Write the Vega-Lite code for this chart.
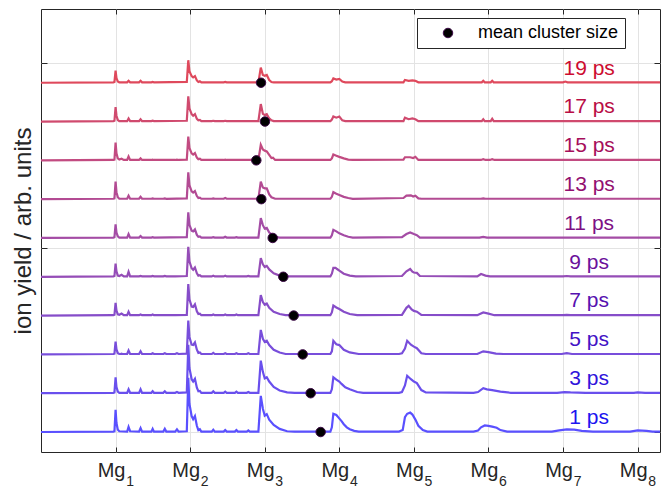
{
"$schema":"https://vega.github.io/schema/vega-lite/v6.json",
"width":619,"height":443,
"autosize":{"type":"none"},
"padding":{"left":41,"top":9,"right":9,"bottom":39},
"config":{"font":"Liberation Sans","view":{"stroke":"#262626","strokeWidth":1},
"axis":{"domain":false,"gridColor":"#e3e3e3","gridWidth":1,"tickColor":"#262626","labelColor":"#262626","titleColor":"#262626","labelFont":"Liberation Sans","titleFont":"Liberation Sans"}},
"datasets":{
"spec":[
{"t":"1 ps","x":0,"y":0},{"t":"1 ps","x":0.97,"y":0.01},{"t":"1 ps","x":0.985,"y":0.02},{"t":"1 ps","x":1.0,"y":0.57},{"t":"1 ps","x":1.012,"y":0.23},{"t":"1 ps","x":1.03,"y":0.06},{"t":"1 ps","x":1.05,"y":0.02},{"t":"1 ps","x":1.155,"y":0.01},{"t":"1 ps","x":1.174,"y":0.13},{"t":"1 ps","x":1.195,"y":0.02},{"t":"1 ps","x":1.315,"y":0.01},{"t":"1 ps","x":1.335,"y":0.10},{"t":"1 ps","x":1.355,"y":0.01},{"t":"1 ps","x":1.48,"y":0.01},{"t":"1 ps","x":1.497,"y":0.08},{"t":"1 ps","x":1.515,"y":0.01},{"t":"1 ps","x":1.64,"y":0.01},{"t":"1 ps","x":1.66,"y":0.08},{"t":"1 ps","x":1.68,"y":0.01},{"t":"1 ps","x":1.80,"y":0.01},{"t":"1 ps","x":1.823,"y":0.07},{"t":"1 ps","x":1.845,"y":0.01},
{"t":"1 ps","x":1.955,"y":0.02},{"t":"1 ps","x":1.975,"y":1.40},{"t":"1 ps","x":1.99,"y":0.73},{"t":"1 ps","x":2.02,"y":0.41},{"t":"1 ps","x":2.04,"y":0.33},{"t":"1 ps","x":2.064,"y":0.41},{"t":"1 ps","x":2.09,"y":0.16},{"t":"1 ps","x":2.11,"y":0.05},{"t":"1 ps","x":2.13,"y":0.07},{"t":"1 ps","x":2.15,"y":0.01},
{"t":"1 ps","x":2.29,"y":0.01},{"t":"1 ps","x":2.31,"y":0.06},{"t":"1 ps","x":2.33,"y":0.01},{"t":"1 ps","x":2.45,"y":0.01},{"t":"1 ps","x":2.47,"y":0.05},{"t":"1 ps","x":2.49,"y":0.01},{"t":"1 ps","x":2.6,"y":0.01},{"t":"1 ps","x":2.62,"y":0.05},{"t":"1 ps","x":2.64,"y":0.01},{"t":"1 ps","x":2.76,"y":0.01},{"t":"1 ps","x":2.78,"y":0.04},{"t":"1 ps","x":2.8,"y":0.01},
{"t":"1 ps","x":2.915,"y":0.01},{"t":"1 ps","x":2.947,"y":0.93},{"t":"1 ps","x":2.975,"y":0.6},{"t":"1 ps","x":3.0,"y":0.42},{"t":"1 ps","x":3.027,"y":0.46},{"t":"1 ps","x":3.06,"y":0.32},{"t":"1 ps","x":3.12,"y":0.18},{"t":"1 ps","x":3.2,"y":0.08},{"t":"1 ps","x":3.3,"y":0.02},{"t":"1 ps","x":3.4,"y":0.01},
{"t":"1 ps","x":3.88,"y":0.01},{"t":"1 ps","x":3.9,"y":0.12},{"t":"1 ps","x":3.92,"y":0.47},{"t":"1 ps","x":3.96,"y":0.44},{"t":"1 ps","x":3.99,"y":0.37},{"t":"1 ps","x":4.03,"y":0.28},{"t":"1 ps","x":4.06,"y":0.2},{"t":"1 ps","x":4.1,"y":0.12},{"t":"1 ps","x":4.14,"y":0.07},{"t":"1 ps","x":4.2,"y":0.03},{"t":"1 ps","x":4.26,"y":0.01},
{"t":"1 ps","x":4.8,"y":0.01},{"t":"1 ps","x":4.85,"y":0.05},{"t":"1 ps","x":4.88,"y":0.38},{"t":"1 ps","x":4.91,"y":0.47},{"t":"1 ps","x":4.95,"y":0.5},{"t":"1 ps","x":4.98,"y":0.45},{"t":"1 ps","x":5.02,"y":0.32},{"t":"1 ps","x":5.06,"y":0.16},{"t":"1 ps","x":5.12,"y":0.05},{"t":"1 ps","x":5.18,"y":0.01},
{"t":"1 ps","x":5.8,"y":0.01},{"t":"1 ps","x":5.86,"y":0.04},{"t":"1 ps","x":5.9,"y":0.12},{"t":"1 ps","x":5.95,"y":0.17},{"t":"1 ps","x":6.0,"y":0.16},{"t":"1 ps","x":6.05,"y":0.14},{"t":"1 ps","x":6.11,"y":0.11},{"t":"1 ps","x":6.16,"y":0.05},{"t":"1 ps","x":6.25,"y":0.01},
{"t":"1 ps","x":6.85,"y":0.01},{"t":"1 ps","x":6.95,"y":0.04},{"t":"1 ps","x":7.05,"y":0.07},{"t":"1 ps","x":7.15,"y":0.06},{"t":"1 ps","x":7.25,"y":0.03},{"t":"1 ps","x":7.4,"y":0.01},
{"t":"1 ps","x":7.9,"y":0.01},{"t":"1 ps","x":8.0,"y":0.04},{"t":"1 ps","x":8.12,"y":0.03},{"t":"1 ps","x":8.2,"y":0.01},{"t":"1 ps","x":8.3,"y":0.01},

{"t":"3 ps","x":0,"y":1},{"t":"3 ps","x":0.97,"y":1.01},{"t":"3 ps","x":0.985,"y":1.02},{"t":"3 ps","x":1.0,"y":1.41},{"t":"3 ps","x":1.012,"y":1.16},{"t":"3 ps","x":1.03,"y":1.04},{"t":"3 ps","x":1.05,"y":1.01},{"t":"3 ps","x":1.155,"y":1.01},{"t":"3 ps","x":1.174,"y":1.10},{"t":"3 ps","x":1.195,"y":1.01},{"t":"3 ps","x":1.315,"y":1.01},{"t":"3 ps","x":1.335,"y":1.10},{"t":"3 ps","x":1.355,"y":1.01},{"t":"3 ps","x":1.48,"y":1.01},{"t":"3 ps","x":1.497,"y":1.05},{"t":"3 ps","x":1.515,"y":1.01},{"t":"3 ps","x":1.64,"y":1.01},{"t":"3 ps","x":1.66,"y":1.05},{"t":"3 ps","x":1.68,"y":1.01},{"t":"3 ps","x":1.80,"y":1.01},{"t":"3 ps","x":1.823,"y":1.03},{"t":"3 ps","x":1.845,"y":1.01},
{"t":"3 ps","x":1.955,"y":1.02},{"t":"3 ps","x":1.975,"y":2.25},{"t":"3 ps","x":1.99,"y":1.65},{"t":"3 ps","x":2.02,"y":1.36},{"t":"3 ps","x":2.04,"y":1.3},{"t":"3 ps","x":2.064,"y":1.37},{"t":"3 ps","x":2.09,"y":1.14},{"t":"3 ps","x":2.11,"y":1.05},{"t":"3 ps","x":2.13,"y":1.06},{"t":"3 ps","x":2.15,"y":1.01},
{"t":"3 ps","x":2.29,"y":1.01},{"t":"3 ps","x":2.31,"y":1.05},{"t":"3 ps","x":2.33,"y":1.01},{"t":"3 ps","x":2.45,"y":1.01},{"t":"3 ps","x":2.47,"y":1.04},{"t":"3 ps","x":2.49,"y":1.01},{"t":"3 ps","x":2.6,"y":1.01},{"t":"3 ps","x":2.62,"y":1.04},{"t":"3 ps","x":2.64,"y":1.01},{"t":"3 ps","x":2.76,"y":1.01},{"t":"3 ps","x":2.78,"y":1.03},{"t":"3 ps","x":2.8,"y":1.01},
{"t":"3 ps","x":2.915,"y":1.01},{"t":"3 ps","x":2.947,"y":1.84},{"t":"3 ps","x":2.975,"y":1.55},{"t":"3 ps","x":3.0,"y":1.38},{"t":"3 ps","x":3.027,"y":1.41},{"t":"3 ps","x":3.06,"y":1.3},{"t":"3 ps","x":3.12,"y":1.16},{"t":"3 ps","x":3.2,"y":1.07},{"t":"3 ps","x":3.3,"y":1.02},{"t":"3 ps","x":3.4,"y":1.01},
{"t":"3 ps","x":3.88,"y":1.01},{"t":"3 ps","x":3.9,"y":1.1},{"t":"3 ps","x":3.92,"y":1.41},{"t":"3 ps","x":3.96,"y":1.35},{"t":"3 ps","x":4.0,"y":1.3},{"t":"3 ps","x":4.03,"y":1.24},{"t":"3 ps","x":4.08,"y":1.15},{"t":"3 ps","x":4.14,"y":1.1},{"t":"3 ps","x":4.24,"y":1.03},{"t":"3 ps","x":4.32,"y":1.01},
{"t":"3 ps","x":4.8,"y":1.01},{"t":"3 ps","x":4.84,"y":1.03},{"t":"3 ps","x":4.88,"y":1.2},{"t":"3 ps","x":4.91,"y":1.45},{"t":"3 ps","x":4.96,"y":1.36},{"t":"3 ps","x":5.0,"y":1.3},{"t":"3 ps","x":5.04,"y":1.26},{"t":"3 ps","x":5.1,"y":1.08},{"t":"3 ps","x":5.16,"y":1.02},
{"t":"3 ps","x":5.8,"y":1.01},{"t":"3 ps","x":5.86,"y":1.03},{"t":"3 ps","x":5.93,"y":1.13},{"t":"3 ps","x":5.98,"y":1.1},{"t":"3 ps","x":6.05,"y":1.08},{"t":"3 ps","x":6.16,"y":1.04},{"t":"3 ps","x":6.3,"y":1.01},
{"t":"3 ps","x":6.92,"y":1.01},{"t":"3 ps","x":7.02,"y":1.03},{"t":"3 ps","x":7.1,"y":1.02},{"t":"3 ps","x":7.3,"y":1.01},{"t":"3 ps","x":7.95,"y":1.01},{"t":"3 ps","x":8.0,"y":1.02},{"t":"3 ps","x":8.1,"y":1.01},{"t":"3 ps","x":8.3,"y":1.01},

{"t":"5 ps","x":0,"y":2},{"t":"5 ps","x":0.97,"y":2.01},{"t":"5 ps","x":0.985,"y":2.02},{"t":"5 ps","x":1.0,"y":2.33},{"t":"5 ps","x":1.012,"y":2.13},{"t":"5 ps","x":1.03,"y":2.03},{"t":"5 ps","x":1.05,"y":2.01},{"t":"5 ps","x":1.07,"y":2.01},{"t":"5 ps","x":1.08,"y":2.02},{"t":"5 ps","x":1.09,"y":2.01},{"t":"5 ps","x":1.155,"y":2.01},{"t":"5 ps","x":1.174,"y":2.10},{"t":"5 ps","x":1.195,"y":2.01},{"t":"5 ps","x":1.315,"y":2.01},{"t":"5 ps","x":1.335,"y":2.08},{"t":"5 ps","x":1.355,"y":2.01},{"t":"5 ps","x":1.48,"y":2.01},{"t":"5 ps","x":1.497,"y":2.03},{"t":"5 ps","x":1.515,"y":2.01},{"t":"5 ps","x":1.64,"y":2.01},{"t":"5 ps","x":1.66,"y":2.03},{"t":"5 ps","x":1.68,"y":2.01},{"t":"5 ps","x":1.80,"y":2.01},{"t":"5 ps","x":1.823,"y":2.03},{"t":"5 ps","x":1.845,"y":2.01},
{"t":"5 ps","x":1.955,"y":2.02},{"t":"5 ps","x":1.975,"y":2.87},{"t":"5 ps","x":1.99,"y":2.45},{"t":"5 ps","x":2.02,"y":2.25},{"t":"5 ps","x":2.04,"y":2.24},{"t":"5 ps","x":2.064,"y":2.31},{"t":"5 ps","x":2.09,"y":2.12},{"t":"5 ps","x":2.11,"y":2.04},{"t":"5 ps","x":2.13,"y":2.05},{"t":"5 ps","x":2.15,"y":2.01},
{"t":"5 ps","x":2.29,"y":2.01},{"t":"5 ps","x":2.31,"y":2.04},{"t":"5 ps","x":2.33,"y":2.01},{"t":"5 ps","x":2.45,"y":2.01},{"t":"5 ps","x":2.47,"y":2.03},{"t":"5 ps","x":2.49,"y":2.01},{"t":"5 ps","x":2.6,"y":2.01},{"t":"5 ps","x":2.62,"y":2.03},{"t":"5 ps","x":2.64,"y":2.01},{"t":"5 ps","x":2.76,"y":2.01},{"t":"5 ps","x":2.78,"y":2.03},{"t":"5 ps","x":2.8,"y":2.01},
{"t":"5 ps","x":2.915,"y":2.01},{"t":"5 ps","x":2.947,"y":2.63},{"t":"5 ps","x":2.975,"y":2.4},{"t":"5 ps","x":3.0,"y":2.32},{"t":"5 ps","x":3.027,"y":2.35},{"t":"5 ps","x":3.06,"y":2.24},{"t":"5 ps","x":3.12,"y":2.12},{"t":"5 ps","x":3.2,"y":2.05},{"t":"5 ps","x":3.28,"y":2.01},
{"t":"5 ps","x":3.88,"y":2.01},{"t":"5 ps","x":3.9,"y":2.08},{"t":"5 ps","x":3.92,"y":2.35},{"t":"5 ps","x":3.96,"y":2.26},{"t":"5 ps","x":4.0,"y":2.24},{"t":"5 ps","x":4.06,"y":2.12},{"t":"5 ps","x":4.14,"y":2.05},{"t":"5 ps","x":4.26,"y":2.01},
{"t":"5 ps","x":4.8,"y":2.01},{"t":"5 ps","x":4.84,"y":2.03},{"t":"5 ps","x":4.88,"y":2.15},{"t":"5 ps","x":4.91,"y":2.35},{"t":"5 ps","x":4.96,"y":2.25},{"t":"5 ps","x":5.0,"y":2.2},{"t":"5 ps","x":5.04,"y":2.16},{"t":"5 ps","x":5.1,"y":2.03},{"t":"5 ps","x":5.16,"y":2.01},
{"t":"5 ps","x":5.85,"y":2.01},{"t":"5 ps","x":5.93,"y":2.08},{"t":"5 ps","x":6.0,"y":2.06},{"t":"5 ps","x":6.1,"y":2.02},{"t":"5 ps","x":6.2,"y":2.01},{"t":"5 ps","x":6.98,"y":2.01},{"t":"5 ps","x":7.05,"y":2.03},{"t":"5 ps","x":7.12,"y":2.01},{"t":"5 ps","x":8.3,"y":2.01},

{"t":"7 ps","x":0,"y":3},{"t":"7 ps","x":0.97,"y":3.01},{"t":"7 ps","x":0.985,"y":3.02},{"t":"7 ps","x":1.0,"y":3.33},{"t":"7 ps","x":1.012,"y":3.13},{"t":"7 ps","x":1.03,"y":3.03},{"t":"7 ps","x":1.05,"y":3.02},{"t":"7 ps","x":1.08,"y":3.05},{"t":"7 ps","x":1.11,"y":3.01},{"t":"7 ps","x":1.155,"y":3.01},{"t":"7 ps","x":1.174,"y":3.10},{"t":"7 ps","x":1.195,"y":3.01},{"t":"7 ps","x":1.315,"y":3.01},{"t":"7 ps","x":1.335,"y":3.03},{"t":"7 ps","x":1.355,"y":3.01},{"t":"7 ps","x":1.48,"y":3.01},{"t":"7 ps","x":1.497,"y":3.03},{"t":"7 ps","x":1.515,"y":3.01},{"t":"7 ps","x":1.80,"y":3.01},
{"t":"7 ps","x":1.955,"y":3.02},{"t":"7 ps","x":1.975,"y":3.81},{"t":"7 ps","x":1.99,"y":3.42},{"t":"7 ps","x":2.02,"y":3.23},{"t":"7 ps","x":2.04,"y":3.22},{"t":"7 ps","x":2.064,"y":3.29},{"t":"7 ps","x":2.09,"y":3.11},{"t":"7 ps","x":2.11,"y":3.04},{"t":"7 ps","x":2.13,"y":3.05},{"t":"7 ps","x":2.15,"y":3.01},
{"t":"7 ps","x":2.29,"y":3.01},{"t":"7 ps","x":2.31,"y":3.03},{"t":"7 ps","x":2.33,"y":3.01},{"t":"7 ps","x":2.45,"y":3.01},{"t":"7 ps","x":2.47,"y":3.03},{"t":"7 ps","x":2.49,"y":3.01},{"t":"7 ps","x":2.6,"y":3.01},{"t":"7 ps","x":2.62,"y":3.03},{"t":"7 ps","x":2.64,"y":3.01},{"t":"7 ps","x":2.8,"y":3.01},
{"t":"7 ps","x":2.915,"y":3.01},{"t":"7 ps","x":2.947,"y":3.53},{"t":"7 ps","x":2.975,"y":3.35},{"t":"7 ps","x":3.0,"y":3.28},{"t":"7 ps","x":3.027,"y":3.31},{"t":"7 ps","x":3.06,"y":3.2},{"t":"7 ps","x":3.12,"y":3.1},{"t":"7 ps","x":3.2,"y":3.04},{"t":"7 ps","x":3.28,"y":3.01},
{"t":"7 ps","x":3.88,"y":3.01},{"t":"7 ps","x":3.9,"y":3.08},{"t":"7 ps","x":3.92,"y":3.26},{"t":"7 ps","x":3.96,"y":3.21},{"t":"7 ps","x":4.0,"y":3.17},{"t":"7 ps","x":4.06,"y":3.1},{"t":"7 ps","x":4.14,"y":3.04},{"t":"7 ps","x":4.24,"y":3.01},
{"t":"7 ps","x":4.84,"y":3.02},{"t":"7 ps","x":4.9,"y":3.2},{"t":"7 ps","x":4.93,"y":3.25},{"t":"7 ps","x":4.97,"y":3.16},{"t":"7 ps","x":5.0,"y":3.12},{"t":"7 ps","x":5.04,"y":3.1},{"t":"7 ps","x":5.1,"y":3.02},
{"t":"7 ps","x":5.85,"y":3.01},{"t":"7 ps","x":5.93,"y":3.08},{"t":"7 ps","x":6.0,"y":3.05},{"t":"7 ps","x":6.08,"y":3.01},{"t":"7 ps","x":7.0,"y":3.01},{"t":"7 ps","x":7.05,"y":3.02},{"t":"7 ps","x":7.1,"y":3.01},{"t":"7 ps","x":8.3,"y":3.01},

{"t":"9 ps","x":0,"y":4},{"t":"9 ps","x":0.97,"y":4.01},{"t":"9 ps","x":0.985,"y":4.02},{"t":"9 ps","x":1.0,"y":4.34},{"t":"9 ps","x":1.012,"y":4.14},{"t":"9 ps","x":1.03,"y":4.03},{"t":"9 ps","x":1.05,"y":4.02},{"t":"9 ps","x":1.08,"y":4.05},{"t":"9 ps","x":1.11,"y":4.01},{"t":"9 ps","x":1.155,"y":4.01},{"t":"9 ps","x":1.174,"y":4.13},{"t":"9 ps","x":1.195,"y":4.01},{"t":"9 ps","x":1.315,"y":4.01},{"t":"9 ps","x":1.335,"y":4.02},{"t":"9 ps","x":1.355,"y":4.01},{"t":"9 ps","x":1.48,"y":4.01},{"t":"9 ps","x":1.497,"y":4.02},{"t":"9 ps","x":1.515,"y":4.01},{"t":"9 ps","x":1.64,"y":4.01},{"t":"9 ps","x":1.66,"y":4.02},{"t":"9 ps","x":1.68,"y":4.01},{"t":"9 ps","x":1.80,"y":4.01},
{"t":"9 ps","x":1.955,"y":4.02},{"t":"9 ps","x":1.975,"y":4.77},{"t":"9 ps","x":1.99,"y":4.4},{"t":"9 ps","x":2.02,"y":4.22},{"t":"9 ps","x":2.04,"y":4.18},{"t":"9 ps","x":2.064,"y":4.24},{"t":"9 ps","x":2.09,"y":4.09},{"t":"9 ps","x":2.11,"y":4.03},{"t":"9 ps","x":2.13,"y":4.04},{"t":"9 ps","x":2.15,"y":4.01},
{"t":"9 ps","x":2.29,"y":4.01},{"t":"9 ps","x":2.31,"y":4.03},{"t":"9 ps","x":2.33,"y":4.01},{"t":"9 ps","x":2.45,"y":4.01},{"t":"9 ps","x":2.47,"y":4.03},{"t":"9 ps","x":2.49,"y":4.01},{"t":"9 ps","x":2.76,"y":4.01},{"t":"9 ps","x":2.78,"y":4.02},{"t":"9 ps","x":2.8,"y":4.01},
{"t":"9 ps","x":2.915,"y":4.01},{"t":"9 ps","x":2.947,"y":4.48},{"t":"9 ps","x":2.975,"y":4.32},{"t":"9 ps","x":3.0,"y":4.25},{"t":"9 ps","x":3.027,"y":4.28},{"t":"9 ps","x":3.06,"y":4.19},{"t":"9 ps","x":3.12,"y":4.09},{"t":"9 ps","x":3.2,"y":4.03},{"t":"9 ps","x":3.25,"y":4.01},
{"t":"9 ps","x":3.88,"y":4.01},{"t":"9 ps","x":3.9,"y":4.08},{"t":"9 ps","x":3.92,"y":4.23},{"t":"9 ps","x":3.95,"y":4.23},{"t":"9 ps","x":3.97,"y":4.2},{"t":"9 ps","x":4.0,"y":4.16},{"t":"9 ps","x":4.06,"y":4.08},{"t":"9 ps","x":4.14,"y":4.03},{"t":"9 ps","x":4.22,"y":4.01},
{"t":"9 ps","x":4.84,"y":4.02},{"t":"9 ps","x":4.9,"y":4.14},{"t":"9 ps","x":4.95,"y":4.2},{"t":"9 ps","x":4.98,"y":4.13},{"t":"9 ps","x":5.0,"y":4.11},{"t":"9 ps","x":5.04,"y":4.1},{"t":"9 ps","x":5.08,"y":4.02},
{"t":"9 ps","x":5.85,"y":4.01},{"t":"9 ps","x":5.9,"y":4.07},{"t":"9 ps","x":5.96,"y":4.03},{"t":"9 ps","x":6.02,"y":4.01},{"t":"9 ps","x":7.0,"y":4.01},{"t":"9 ps","x":7.05,"y":4.02},{"t":"9 ps","x":7.1,"y":4.01},{"t":"9 ps","x":8.3,"y":4.01},

{"t":"11 ps","x":0,"y":5},{"t":"11 ps","x":0.97,"y":5.01},{"t":"11 ps","x":0.985,"y":5.02},{"t":"11 ps","x":1.0,"y":5.35},{"t":"11 ps","x":1.012,"y":5.14},{"t":"11 ps","x":1.03,"y":5.04},{"t":"11 ps","x":1.05,"y":5.01},{"t":"11 ps","x":1.155,"y":5.01},{"t":"11 ps","x":1.174,"y":5.10},{"t":"11 ps","x":1.195,"y":5.01},{"t":"11 ps","x":1.315,"y":5.01},{"t":"11 ps","x":1.335,"y":5.05},{"t":"11 ps","x":1.355,"y":5.01},{"t":"11 ps","x":1.48,"y":5.01},{"t":"11 ps","x":1.497,"y":5.02},{"t":"11 ps","x":1.515,"y":5.01},
{"t":"11 ps","x":1.955,"y":5.02},{"t":"11 ps","x":1.975,"y":5.66},{"t":"11 ps","x":1.99,"y":5.34},{"t":"11 ps","x":2.02,"y":5.19},{"t":"11 ps","x":2.04,"y":5.17},{"t":"11 ps","x":2.064,"y":5.22},{"t":"11 ps","x":2.09,"y":5.08},{"t":"11 ps","x":2.11,"y":5.03},{"t":"11 ps","x":2.13,"y":5.04},{"t":"11 ps","x":2.15,"y":5.01},
{"t":"11 ps","x":2.29,"y":5.01},{"t":"11 ps","x":2.31,"y":5.02},{"t":"11 ps","x":2.33,"y":5.01},{"t":"11 ps","x":2.45,"y":5.01},{"t":"11 ps","x":2.47,"y":5.03},{"t":"11 ps","x":2.49,"y":5.01},{"t":"11 ps","x":2.6,"y":5.01},{"t":"11 ps","x":2.62,"y":5.02},{"t":"11 ps","x":2.64,"y":5.01},
{"t":"11 ps","x":2.915,"y":5.01},{"t":"11 ps","x":2.947,"y":5.51},{"t":"11 ps","x":2.975,"y":5.33},{"t":"11 ps","x":3.0,"y":5.24},{"t":"11 ps","x":3.027,"y":5.26},{"t":"11 ps","x":3.06,"y":5.14},{"t":"11 ps","x":3.12,"y":5.06},{"t":"11 ps","x":3.16,"y":5.02},{"t":"11 ps","x":3.2,"y":5.01},
{"t":"11 ps","x":3.88,"y":5.01},{"t":"11 ps","x":3.9,"y":5.07},{"t":"11 ps","x":3.92,"y":5.21},{"t":"11 ps","x":3.96,"y":5.17},{"t":"11 ps","x":4.0,"y":5.12},{"t":"11 ps","x":4.06,"y":5.07},{"t":"11 ps","x":4.12,"y":5.03},{"t":"11 ps","x":4.18,"y":5.01},
{"t":"11 ps","x":4.84,"y":5.02},{"t":"11 ps","x":4.9,"y":5.1},{"t":"11 ps","x":4.95,"y":5.14},{"t":"11 ps","x":5.0,"y":5.1},{"t":"11 ps","x":5.04,"y":5.07},{"t":"11 ps","x":5.08,"y":5.01},
{"t":"11 ps","x":5.88,"y":5.01},{"t":"11 ps","x":5.93,"y":5.03},{"t":"11 ps","x":5.98,"y":5.01},{"t":"11 ps","x":8.3,"y":5.01},

{"t":"13 ps","x":0,"y":6},{"t":"13 ps","x":0.97,"y":6.01},{"t":"13 ps","x":0.985,"y":6.02},{"t":"13 ps","x":1.0,"y":6.45},{"t":"13 ps","x":1.012,"y":6.18},{"t":"13 ps","x":1.03,"y":6.05},{"t":"13 ps","x":1.05,"y":6.01},{"t":"13 ps","x":1.155,"y":6.01},{"t":"13 ps","x":1.174,"y":6.09},{"t":"13 ps","x":1.195,"y":6.01},{"t":"13 ps","x":1.315,"y":6.01},{"t":"13 ps","x":1.335,"y":6.06},{"t":"13 ps","x":1.355,"y":6.01},{"t":"13 ps","x":1.48,"y":6.01},{"t":"13 ps","x":1.497,"y":6.02},{"t":"13 ps","x":1.515,"y":6.01},{"t":"13 ps","x":1.64,"y":6.01},{"t":"13 ps","x":1.66,"y":6.02},{"t":"13 ps","x":1.68,"y":6.01},
{"t":"13 ps","x":1.955,"y":6.02},{"t":"13 ps","x":1.975,"y":6.69},{"t":"13 ps","x":1.99,"y":6.36},{"t":"13 ps","x":2.02,"y":6.2},{"t":"13 ps","x":2.04,"y":6.17},{"t":"13 ps","x":2.064,"y":6.21},{"t":"13 ps","x":2.09,"y":6.08},{"t":"13 ps","x":2.11,"y":6.03},{"t":"13 ps","x":2.13,"y":6.04},{"t":"13 ps","x":2.15,"y":6.01},
{"t":"13 ps","x":2.29,"y":6.01},{"t":"13 ps","x":2.31,"y":6.02},{"t":"13 ps","x":2.33,"y":6.01},{"t":"13 ps","x":2.45,"y":6.01},{"t":"13 ps","x":2.47,"y":6.03},{"t":"13 ps","x":2.49,"y":6.01},
{"t":"13 ps","x":2.915,"y":6.01},{"t":"13 ps","x":2.947,"y":6.45},{"t":"13 ps","x":2.975,"y":6.3},{"t":"13 ps","x":3.0,"y":6.28},{"t":"13 ps","x":3.027,"y":6.28},{"t":"13 ps","x":3.06,"y":6.12},{"t":"13 ps","x":3.09,"y":6.05},{"t":"13 ps","x":3.14,"y":6.01},
{"t":"13 ps","x":3.88,"y":6.01},{"t":"13 ps","x":3.9,"y":6.06},{"t":"13 ps","x":3.92,"y":6.18},{"t":"13 ps","x":3.96,"y":6.14},{"t":"13 ps","x":4.0,"y":6.11},{"t":"13 ps","x":4.06,"y":6.06},{"t":"13 ps","x":4.12,"y":6.03},{"t":"13 ps","x":4.18,"y":6.01},
{"t":"13 ps","x":4.86,"y":6.03},{"t":"13 ps","x":4.9,"y":6.09},{"t":"13 ps","x":4.96,"y":6.1},{"t":"13 ps","x":4.99,"y":6.07},{"t":"13 ps","x":5.02,"y":6.09},{"t":"13 ps","x":5.06,"y":6.02},{"t":"13 ps","x":5.1,"y":6.01},
{"t":"13 ps","x":5.9,"y":6.01},{"t":"13 ps","x":5.93,"y":6.02},{"t":"13 ps","x":5.96,"y":6.01},{"t":"13 ps","x":8.3,"y":6.01},

{"t":"15 ps","x":0,"y":7},{"t":"15 ps","x":0.97,"y":7.01},{"t":"15 ps","x":0.985,"y":7.02},{"t":"15 ps","x":1.0,"y":7.46},{"t":"15 ps","x":1.012,"y":7.18},{"t":"15 ps","x":1.03,"y":7.05},{"t":"15 ps","x":1.05,"y":7.02},{"t":"15 ps","x":1.08,"y":7.04},{"t":"15 ps","x":1.11,"y":7.01},{"t":"15 ps","x":1.155,"y":7.01},{"t":"15 ps","x":1.174,"y":7.1},{"t":"15 ps","x":1.195,"y":7.01},{"t":"15 ps","x":1.315,"y":7.01},{"t":"15 ps","x":1.335,"y":7.05},{"t":"15 ps","x":1.355,"y":7.01},{"t":"15 ps","x":1.48,"y":7.01},{"t":"15 ps","x":1.497,"y":7.02},{"t":"15 ps","x":1.515,"y":7.01},{"t":"15 ps","x":1.80,"y":7.01},{"t":"15 ps","x":1.823,"y":7.02},{"t":"15 ps","x":1.845,"y":7.01},
{"t":"15 ps","x":1.955,"y":7.02},{"t":"15 ps","x":1.975,"y":7.61},{"t":"15 ps","x":1.99,"y":7.32},{"t":"15 ps","x":2.02,"y":7.18},{"t":"15 ps","x":2.04,"y":7.15},{"t":"15 ps","x":2.064,"y":7.19},{"t":"15 ps","x":2.09,"y":7.07},{"t":"15 ps","x":2.11,"y":7.03},{"t":"15 ps","x":2.13,"y":7.04},{"t":"15 ps","x":2.15,"y":7.01},
{"t":"15 ps","x":2.45,"y":7.01},{"t":"15 ps","x":2.47,"y":7.02},{"t":"15 ps","x":2.49,"y":7.01},
{"t":"15 ps","x":2.915,"y":7.01},{"t":"15 ps","x":2.947,"y":7.4},{"t":"15 ps","x":2.975,"y":7.28},{"t":"15 ps","x":3.0,"y":7.25},{"t":"15 ps","x":3.027,"y":7.23},{"t":"15 ps","x":3.06,"y":7.14},{"t":"15 ps","x":3.09,"y":7.06},{"t":"15 ps","x":3.11,"y":7.07},{"t":"15 ps","x":3.14,"y":7.01},
{"t":"15 ps","x":3.88,"y":7.01},{"t":"15 ps","x":3.9,"y":7.05},{"t":"15 ps","x":3.92,"y":7.15},{"t":"15 ps","x":3.96,"y":7.12},{"t":"15 ps","x":4.0,"y":7.09},{"t":"15 ps","x":4.06,"y":7.05},{"t":"15 ps","x":4.12,"y":7.02},{"t":"15 ps","x":4.18,"y":7.01},
{"t":"15 ps","x":4.86,"y":7.02},{"t":"15 ps","x":4.88,"y":7.08},{"t":"15 ps","x":4.95,"y":7.08},{"t":"15 ps","x":4.99,"y":7.06},{"t":"15 ps","x":5.02,"y":7.09},{"t":"15 ps","x":5.06,"y":7.01},
{"t":"15 ps","x":5.9,"y":7.01},{"t":"15 ps","x":5.93,"y":7.03},{"t":"15 ps","x":5.96,"y":7.01},{"t":"15 ps","x":6.02,"y":7.01},{"t":"15 ps","x":6.05,"y":7.03},{"t":"15 ps","x":6.08,"y":7.01},{"t":"15 ps","x":8.3,"y":7.01},

{"t":"17 ps","x":0,"y":8},{"t":"17 ps","x":0.97,"y":8.01},{"t":"17 ps","x":0.985,"y":8.02},{"t":"17 ps","x":1.0,"y":8.37},{"t":"17 ps","x":1.012,"y":8.15},{"t":"17 ps","x":1.03,"y":8.04},{"t":"17 ps","x":1.05,"y":8.01},{"t":"17 ps","x":1.155,"y":8.01},{"t":"17 ps","x":1.174,"y":8.08},{"t":"17 ps","x":1.195,"y":8.01},{"t":"17 ps","x":1.315,"y":8.01},{"t":"17 ps","x":1.335,"y":8.06},{"t":"17 ps","x":1.355,"y":8.01},{"t":"17 ps","x":1.48,"y":8.01},{"t":"17 ps","x":1.497,"y":8.02},{"t":"17 ps","x":1.515,"y":8.01},
{"t":"17 ps","x":1.955,"y":8.02},{"t":"17 ps","x":1.975,"y":8.65},{"t":"17 ps","x":1.99,"y":8.34},{"t":"17 ps","x":2.02,"y":8.19},{"t":"17 ps","x":2.04,"y":8.15},{"t":"17 ps","x":2.064,"y":8.19},{"t":"17 ps","x":2.09,"y":8.07},{"t":"17 ps","x":2.11,"y":8.03},{"t":"17 ps","x":2.13,"y":8.04},{"t":"17 ps","x":2.15,"y":8.01},
{"t":"17 ps","x":2.29,"y":8.01},{"t":"17 ps","x":2.31,"y":8.02},{"t":"17 ps","x":2.33,"y":8.01},{"t":"17 ps","x":2.45,"y":8.01},{"t":"17 ps","x":2.47,"y":8.02},{"t":"17 ps","x":2.49,"y":8.01},
{"t":"17 ps","x":2.915,"y":8.01},{"t":"17 ps","x":2.947,"y":8.45},{"t":"17 ps","x":2.975,"y":8.2},{"t":"17 ps","x":3.0,"y":8.17},{"t":"17 ps","x":3.027,"y":8.19},{"t":"17 ps","x":3.06,"y":8.08},{"t":"17 ps","x":3.09,"y":8.03},{"t":"17 ps","x":3.12,"y":8.01},
{"t":"17 ps","x":3.88,"y":8.01},{"t":"17 ps","x":3.9,"y":8.05},{"t":"17 ps","x":3.92,"y":8.13},{"t":"17 ps","x":3.96,"y":8.1},{"t":"17 ps","x":4.0,"y":8.13},{"t":"17 ps","x":4.04,"y":8.03},{"t":"17 ps","x":4.08,"y":8.01},
{"t":"17 ps","x":4.86,"y":8.01},{"t":"17 ps","x":4.88,"y":8.1},{"t":"17 ps","x":4.93,"y":8.06},{"t":"17 ps","x":4.98,"y":8.08},{"t":"17 ps","x":5.02,"y":8.06},{"t":"17 ps","x":5.06,"y":8.01},
{"t":"17 ps","x":5.91,"y":8.01},{"t":"17 ps","x":5.93,"y":8.06},{"t":"17 ps","x":5.95,"y":8.01},{"t":"17 ps","x":6.03,"y":8.01},{"t":"17 ps","x":6.05,"y":8.07},{"t":"17 ps","x":6.07,"y":8.01},{"t":"17 ps","x":8.3,"y":8.01},

{"t":"19 ps","x":0,"y":9},{"t":"19 ps","x":0.97,"y":9.01},{"t":"19 ps","x":0.985,"y":9.02},{"t":"19 ps","x":1.0,"y":9.31},{"t":"19 ps","x":1.012,"y":9.12},{"t":"19 ps","x":1.03,"y":9.03},{"t":"19 ps","x":1.05,"y":9.01},{"t":"19 ps","x":1.155,"y":9.01},{"t":"19 ps","x":1.174,"y":9.05},{"t":"19 ps","x":1.195,"y":9.01},{"t":"19 ps","x":1.315,"y":9.01},{"t":"19 ps","x":1.335,"y":9.05},{"t":"19 ps","x":1.355,"y":9.01},{"t":"19 ps","x":1.48,"y":9.01},{"t":"19 ps","x":1.497,"y":9.02},{"t":"19 ps","x":1.515,"y":9.01},
{"t":"19 ps","x":1.955,"y":9.02},{"t":"19 ps","x":1.975,"y":9.58},{"t":"19 ps","x":1.99,"y":9.3},{"t":"19 ps","x":2.02,"y":9.17},{"t":"19 ps","x":2.04,"y":9.14},{"t":"19 ps","x":2.064,"y":9.17},{"t":"19 ps","x":2.09,"y":9.06},{"t":"19 ps","x":2.11,"y":9.02},{"t":"19 ps","x":2.13,"y":9.04},{"t":"19 ps","x":2.15,"y":9.01},
{"t":"19 ps","x":2.45,"y":9.01},{"t":"19 ps","x":2.47,"y":9.02},{"t":"19 ps","x":2.49,"y":9.01},
{"t":"19 ps","x":2.915,"y":9.01},{"t":"19 ps","x":2.947,"y":9.39},{"t":"19 ps","x":2.975,"y":9.2},{"t":"19 ps","x":3.0,"y":9.18},{"t":"19 ps","x":3.027,"y":9.2},{"t":"19 ps","x":3.06,"y":9.07},{"t":"19 ps","x":3.09,"y":9.02},{"t":"19 ps","x":3.12,"y":9.01},
{"t":"19 ps","x":3.88,"y":9.01},{"t":"19 ps","x":3.9,"y":9.04},{"t":"19 ps","x":3.92,"y":9.11},{"t":"19 ps","x":3.96,"y":9.08},{"t":"19 ps","x":4.0,"y":9.1},{"t":"19 ps","x":4.04,"y":9.03},{"t":"19 ps","x":4.08,"y":9.01},
{"t":"19 ps","x":4.86,"y":9.01},{"t":"19 ps","x":4.88,"y":9.07},{"t":"19 ps","x":4.93,"y":9.05},{"t":"19 ps","x":4.98,"y":9.06},{"t":"19 ps","x":5.02,"y":9.05},{"t":"19 ps","x":5.06,"y":9.01},
{"t":"19 ps","x":5.91,"y":9.01},{"t":"19 ps","x":5.93,"y":9.05},{"t":"19 ps","x":5.95,"y":9.01},{"t":"19 ps","x":6.03,"y":9.01},{"t":"19 ps","x":6.05,"y":9.05},{"t":"19 ps","x":6.07,"y":9.01},{"t":"19 ps","x":7.0,"y":9.01},{"t":"19 ps","x":7.03,"y":9.03},{"t":"19 ps","x":7.06,"y":9.01},{"t":"19 ps","x":8.3,"y":9.01}
],
"mean":[
{"t":"1 ps","m":3.750,"o":0},{"t":"3 ps","m":3.616,"o":1},{"t":"5 ps","m":3.509,"o":2},{"t":"7 ps","m":3.388,"o":3},{"t":"9 ps","m":3.249,"o":4},{"t":"11 ps","m":3.107,"o":5},{"t":"13 ps","m":2.954,"o":6},{"t":"15 ps","m":2.887,"o":7},{"t":"17 ps","m":3.003,"o":8},{"t":"19 ps","m":2.950,"o":9}
],
"lab":[
{"t":"1 ps","lx":7.35,"ly":0.21},{"t":"3 ps","lx":7.35,"ly":1.21},{"t":"5 ps","lx":7.35,"ly":2.21},{"t":"7 ps","lx":7.35,"ly":3.21},{"t":"9 ps","lx":7.35,"ly":4.21},{"t":"11 ps","lx":7.35,"ly":5.21},{"t":"13 ps","lx":7.35,"ly":6.21},{"t":"15 ps","lx":7.35,"ly":7.21},{"t":"17 ps","lx":7.35,"ly":8.21},{"t":"19 ps","lx":7.35,"ly":9.21}
]},
"layer":[
{"data":{"name":"spec"},
 "mark":{"type":"line","strokeWidth":2.2},
 "encoding":{
  "x":{"field":"x","type":"quantitative","scale":{"domain":[0,8.3],"nice":false,"zero":false},
       "axis":{"orient":"bottom","values":[1,2,3,4,5,6,7,8],"labelExpr":"'Mg'","labelFontSize":20,"labelOffset":-4.5,"labelBaseline":"alphabetic","labelPadding":24,"ticks":false,"grid":true,"title":null}},
  "y":{"field":"y","type":"quantitative","scale":{"domain":[-0.515,10.9],"nice":false,"zero":false},
       "axis":{"orient":"left","values":[0,4.75,9.5],"labels":false,"ticks":true,"tickSize":-6,"grid":true,"title":"ion yield / arb. units","titleFontSize":24,"titleFontWeight":"normal","titlePadding":5}},
  "stroke":{"field":"t","type":"nominal","scale":{"domain":["1 ps","3 ps","5 ps","7 ps","9 ps","11 ps","13 ps","15 ps","17 ps","19 ps"],"range":["#5a50ff","#694fed","#784edb","#864dc9","#954db7","#a44ca5","#b34b93","#c24b81","#d04a6e","#df495c"]},"legend":null}
 }},
{"data":{"name":"mean"},
 "mark":{"type":"circle","size":90,"opacity":1,"stroke":"#3c0a46","strokeWidth":1},
 "encoding":{
  "x":{"field":"m","type":"quantitative","scale":{"domain":[0,8.3],"nice":false,"zero":false},
       "axis":{"orient":"bottom","values":[1,2,3,4,5,6,7,8],"labelFontSize":14,"labelOffset":14,"labelBaseline":"alphabetic","labelPadding":38,"ticks":true,"tickSize":-5,"grid":false,"title":null}},
  "y":{"field":"o","type":"quantitative","scale":{"domain":[-0.515,10.9],"nice":false,"zero":false},
       "axis":{"orient":"right","values":[0,4.75,9.5],"labels":false,"ticks":true,"tickSize":-6,"grid":false,"title":null}},
  "fill":{"datum":"mean cluster size","type":"nominal","scale":{"range":["#000000"]},
       "legend":{"orient":"none","legendX":376,"legendY":9,"title":null,"strokeColor":"#262626","fillColor":"#ffffff","padding":6,"labelFontSize":18,"labelColor":"#000000","labelFont":"Liberation Sans","symbolSize":90,"symbolType":"circle","symbolOffset":16,"labelOffset":21,"symbolStrokeColor":"#3c0a46","symbolStrokeWidth":1}}
 }},
{"data":{"name":"lab"},
 "mark":{"type":"text","align":"center","baseline":"alphabetic","fontSize":21,"font":"Liberation Sans"},
 "encoding":{
  "x":{"field":"lx","type":"quantitative","scale":{"domain":[0,8.3],"nice":false,"zero":false},
       "axis":{"orient":"top","values":[1,2,3,4,5,6,7,8],"labels":false,"ticks":true,"tickSize":-5,"grid":false,"title":null}},
  "y":{"field":"ly","type":"quantitative","scale":{"domain":[-0.515,10.9],"nice":false,"zero":false},"axis":null},
  "text":{"field":"t"},
  "color":{"field":"t","type":"nominal","scale":{"domain":["1 ps","3 ps","5 ps","7 ps","9 ps","11 ps","13 ps","15 ps","17 ps","19 ps"],"range":["#1c14f0","#3013db","#4312c5","#5711b0","#6b109b","#7e1085","#920f70","#a60e5b","#b90d45","#cd0c30"]},"legend":null}
 }}
],
"resolve":{"axis":{"x":"independent","y":"independent"}}
}
